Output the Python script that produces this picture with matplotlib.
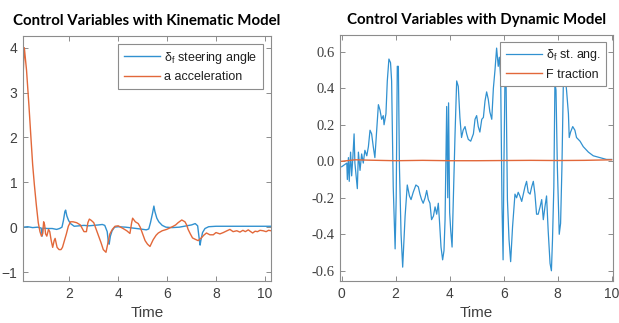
# Control inputs from the kinematic and dynamic vehicle models
import matplotlib.pyplot as plt

# kinematic model: steering angle
t_steer_kin = [0.11, 0.3, 0.5, 0.7, 0.85, 0.89, 0.92, 1.1, 1.3, 1.48, 1.6, 1.7, 1.76, 1.82,
               1.85, 1.9, 1.97, 2.05, 2.2, 2.4, 2.6, 2.8, 3.0, 3.2, 3.35, 3.45, 3.55, 3.6,
               3.63, 3.68, 3.75, 3.85, 4.0, 4.3, 4.6, 4.9, 5.15, 5.25, 5.32, 5.4, 5.46, 5.5,
               5.58, 5.66, 5.8, 5.95, 6.2, 6.5, 6.8, 7.0, 7.15, 7.25, 7.3, 7.35, 7.38, 7.45,
               7.55, 7.7, 8.0, 9.0, 10.25]
steer_kin = [0.0, 0.01, -0.01, 0.0, -0.02, -0.2, -0.02, -0.03, -0.03, -0.05, -0.03, 0.0, 0.15,
             0.35, 0.38, 0.25, 0.15, 0.08, 0.02, 0.03, 0.04, 0.03, 0.04, 0.05, 0.06, 0.04, -0.1,
             -0.35, -0.38, -0.2, -0.08, 0.0, 0.01, 0.0, -0.02, -0.04, -0.06, -0.04, 0.1, 0.3,
             0.47, 0.35, 0.2, 0.12, 0.04, 0.0, -0.01, 0.0, 0.03, 0.05, 0.08, 0.03, -0.2, -0.4,
             -0.3, -0.12, -0.03, 0.01, 0.02, 0.02, 0.02]

# kinematic model: acceleration
t_acc_kin = [0.11, 0.16, 0.25, 0.35, 0.43, 0.5, 0.57, 0.65, 0.73, 0.8, 0.86, 0.91, 0.95, 0.99,
             1.03, 1.08, 1.15, 1.2, 1.26, 1.32, 1.38, 1.42, 1.5, 1.58, 1.66, 1.72, 1.8, 1.88,
             1.96, 2.05, 2.15, 2.3, 2.45, 2.6, 2.7, 2.76, 2.82, 2.9, 3.0, 3.1, 3.2, 3.3, 3.39,
             3.5, 3.58, 3.66, 3.76, 3.87, 4.0, 4.2, 4.35, 4.48, 4.55, 4.59, 4.7, 4.82, 4.9,
             5.0, 5.1, 5.2, 5.3, 5.43, 5.55, 5.64, 5.8, 5.98, 6.1, 6.25, 6.35, 6.45, 6.6, 6.73,
             6.8, 6.86, 6.95, 7.04, 7.15, 7.27, 7.4, 7.5, 7.61, 7.75, 7.89, 8.0, 8.16, 8.3,
             8.45, 8.57, 8.7, 8.85, 8.98, 9.1, 9.2, 9.32, 9.42, 9.5, 9.6, 9.7, 9.8, 9.93,
             10.05, 10.15, 10.25]
acc_kin = [3.4, 4.0, 3.5, 2.7, 2.0, 1.4, 0.95, 0.5, 0.1, -0.1, -0.2, -0.15, 0.12, 0.05,
           -0.15, -0.2, -0.05, -0.1, -0.3, -0.45, -0.3, -0.25, -0.45, -0.5, -0.5, -0.45,
           -0.3, -0.15, 0.02, 0.12, 0.12, 0.1, 0.05, -0.1, -0.1, 0.1, 0.18, 0.15, 0.1, -0.05,
           -0.2, -0.35, -0.5, -0.56, -0.35, -0.15, -0.05, 0.02, 0.03, -0.03, -0.08, -0.14,
           0.1, 0.2, 0.12, 0.08, 0.0, -0.15, -0.3, -0.38, -0.43, -0.28, -0.18, -0.13, -0.08,
           -0.05, -0.02, 0.02, 0.05, 0.1, 0.16, 0.12, 0.05, -0.05, -0.15, -0.24, -0.27, -0.3,
           -0.24, -0.18, -0.13, -0.17, -0.17, -0.12, -0.15, -0.12, -0.08, -0.05, -0.1, -0.08,
           -0.11, -0.07, -0.1, -0.06, -0.1, -0.13, -0.09, -0.1, -0.07, -0.08, -0.1, -0.07,
           -0.08]

# dynamic model: steering angle
t_steer_dyn = [0.0, 0.19, 0.21, 0.25, 0.28, 0.33, 0.37, 0.41, 0.46, 0.49, 0.53, 0.58, 0.62,
               0.68, 0.74, 0.8, 0.86, 0.93, 0.99, 1.05, 1.11, 1.17, 1.23, 1.3, 1.36, 1.42,
               1.48, 1.54, 1.57, 1.64, 1.69, 1.75, 1.81, 1.85, 1.91, 1.98, 2.02, 2.06, 2.1,
               2.14, 2.2, 2.26, 2.35, 2.43, 2.51, 2.57, 2.65, 2.75, 2.84, 2.9, 2.96, 3.02,
               3.09, 3.15, 3.21, 3.27, 3.33, 3.4, 3.46, 3.52, 3.58, 3.62, 3.68, 3.74, 3.79,
               3.83, 3.89, 3.93, 3.96, 4.0, 4.04, 4.09, 4.14, 4.2, 4.26, 4.32, 4.38, 4.44,
               4.5, 4.57, 4.63, 4.69, 4.78, 4.88, 4.94, 5.0, 5.06, 5.12, 5.19, 5.25, 5.31,
               5.37, 5.43, 5.49, 5.56, 5.62, 5.68, 5.74, 5.8, 5.84, 5.89, 5.94, 5.98, 6.01,
               6.05, 6.09, 6.14, 6.2, 6.26, 6.33, 6.42, 6.48, 6.54, 6.6, 6.67, 6.73, 6.79,
               6.85, 6.91, 6.98, 7.04, 7.1, 7.16, 7.22, 7.28, 7.35, 7.41, 7.47, 7.53, 7.59,
               7.65, 7.72, 7.77, 7.81, 7.86, 7.9, 7.94, 7.99, 8.06, 8.11, 8.16, 8.21, 8.27,
               8.33, 8.4, 8.43, 8.48, 8.56, 8.64, 8.7, 8.83, 8.95, 9.14, 9.32, 9.57, 9.81, 10.0]
steer_dyn = [-0.03, -0.01, -0.10, 0.02, -0.11, 0.05, -0.08, 0.01, 0.15, -0.01, -0.07, -0.15,
             0.05, -0.05, 0.04, -0.01, 0.06, 0.03, 0.08, 0.17, 0.15, 0.08, 0.02, 0.18, 0.31,
             0.28, 0.23, 0.25, 0.2, 0.26, 0.44, 0.56, 0.54, 0.44, -0.14, -0.48, -0.2, 0.52,
             0.52, -0.03, -0.4, -0.58, -0.3, -0.13, -0.19, -0.21, -0.17, -0.13, -0.14, -0.18,
             -0.21, -0.23, -0.2, -0.16, -0.21, -0.23, -0.32, -0.3, -0.25, -0.29, -0.23, -0.32,
             -0.47, -0.54, -0.49, -0.32, 0.3, -0.2, 0.32, -0.28, -0.38, -0.47, -0.18, 0.15,
             0.44, 0.41, 0.24, 0.13, 0.17, 0.19, 0.15, 0.12, 0.11, 0.15, 0.23, 0.25, 0.19,
             0.16, 0.23, 0.24, 0.33, 0.38, 0.34, 0.27, 0.23, 0.4, 0.5, 0.62, 0.52, 0.57, 0.46,
             -0.25, -0.54, -0.03, 0.46, 0.43, -0.21, -0.43, -0.55, -0.36, -0.18, -0.2, -0.17,
             -0.19, -0.22, -0.18, -0.14, -0.11, -0.17, -0.18, -0.14, -0.11, -0.18, -0.29,
             -0.29, -0.25, -0.21, -0.32, -0.25, -0.19, -0.38, -0.56, -0.6, -0.43, -0.14, 0.43,
             0.39, -0.03, -0.4, -0.34, -0.03, 0.41, 0.48, 0.39, 0.26, 0.13, 0.16, 0.19, 0.17,
             0.13, 0.11, 0.08, 0.05, 0.03, 0.02, 0.01, 0.01]

# dynamic model: traction force
t_trac_dyn = [0.0, 0.5, 1.0, 2.0, 3.0, 4.0, 5.0, 6.0, 7.0, 8.0, 9.0, 10.0]
trac_dyn = [0.0, 0.008, 0.006, 0.003, 0.005, 0.003, 0.003, 0.004, 0.005, 0.004, 0.005, 0.008]

dyn_ytick_vals = [-0.6, -0.4, -0.2, 0.0, 0.2, 0.4, 0.6]
dyn_ytick_labels = ["-0.6", "-0.4", "-0.2", "0.0", "0.2", "0.4", "0.6"]

blue = "#3191D0"
orange = "#E2683A"
frame = "#8C8C8C"
text_col = "#404040"

plt.rcParams["font.family"] = ["Liberation Sans", "DejaVu Sans"]
plt.rcParams["font.serif"] = ["Liberation Serif", "DejaVu Serif"]
plt.rcParams["mathtext.fontset"] = "custom"
plt.rcParams["mathtext.rm"] = "Liberation Sans"

fig = plt.figure(figsize=(6.19, 3.23), dpi=100)
ax1 = fig.add_axes([0.0372, 0.130, 0.4006, 0.7585])
ax2 = fig.add_axes([0.5498, 0.130, 0.4400, 0.7607])


def style_axes(ax):
    for s in ax.spines.values():
        s.set_color(frame)
        s.set_linewidth(0.8)
    ax.tick_params(direction="in", length=3.5, width=0.7, color=frame,
                   top=True, right=True, labelsize=10, labelcolor=text_col, pad=4)
    ax.set_xlabel("Time", fontsize=11, color=text_col, labelpad=4)


def add_legend(ax, pad):
    leg = ax.legend(loc="upper right", fontsize=9, handlelength=2.9, frameon=True,
                    fancybox=False, edgecolor=frame, borderaxespad=pad, labelspacing=0.45,
                    handletextpad=0.3, borderpad=0.45, framealpha=1)
    leg.get_frame().set_linewidth(0.8)
    for txt in leg.get_texts():
        txt.set_color("#202020")
    return leg


ax1.plot(t_steer_kin, steer_kin, color=blue, lw=1.0, label=r"δ$_\mathrm{f}$ steering angle")
ax1.plot(t_acc_kin, acc_kin, color=orange, lw=1.0, label="a acceleration")
ax1.set_xlim(0.107, 10.25)
ax1.set_ylim(-1.2, 4.26)
ax1.set_xticks([2, 4, 6, 8, 10])
ax1.set_yticks([-1, 0, 1, 2, 3, 4])
style_axes(ax1)
ax1.set_title("Control Variables with Kinematic Model", fontsize=10.8, fontweight="bold",
              family="Lato", color="black", pad=8)
add_legend(ax1, 0.65)

ax2.plot(t_steer_dyn, steer_dyn, color=blue, lw=0.9, label=r"δ$_\mathrm{f}$ st. ang.")
ax2.plot(t_trac_dyn, trac_dyn, color=orange, lw=1.0, label="F traction")
ax2.set_xlim(-0.05, 10.04)
ax2.set_ylim(-0.656, 0.69)
ax2.set_xticks([0, 2, 4, 6, 8, 10])
style_axes(ax2)
ax2.set_yticks(dyn_ytick_vals, dyn_ytick_labels, family="serif", fontsize=10.5)
ax2.set_title("Control Variables with Dynamic Model", fontsize=10.8, fontweight="bold",
              family="Lato", color="black", pad=8)
add_legend(ax2, 0.5)

fig.savefig("out.png", dpi=100)
